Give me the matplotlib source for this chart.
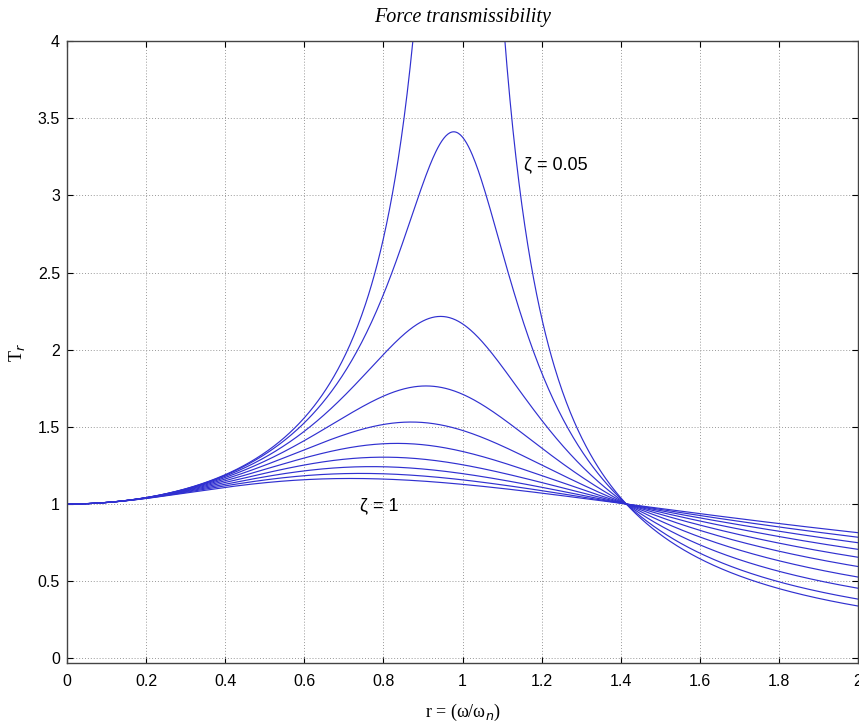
import numpy as np
import matplotlib
matplotlib.use("Agg")
import matplotlib.pyplot as plt

# Damping ratios of the plotted curves (read from peak heights)
zetas = [0.05, 0.155, 0.26, 0.36, 0.46, 0.56, 0.66, 0.76, 0.86, 0.96]
r = np.linspace(0, 2, 801)

xticks = [0, 0.2, 0.4, 0.6, 0.8, 1, 1.2, 1.4, 1.6, 1.8, 2]
xticklabels = ["0", "0.2", "0.4", "0.6", "0.8", "1", "1.2", "1.4", "1.6", "1.8", "2"]
yticks = [0, 0.5, 1, 1.5, 2, 2.5, 3, 3.5, 4]
yticklabels = ["0", "0.5", "1", "1.5", "2", "2.5", "3", "3.5", "4"]

fig = plt.figure(figsize=(8.59, 7.22), dpi=100)
ax = fig.add_axes([67/859, 59/722, 791/859, 622/722])

for z in zetas:
    T = np.sqrt((1 + (2*z*r)**2) / ((1 - r**2)**2 + (2*z*r)**2))
    ax.plot(r, T, color="#3030d0", lw=0.85)

ax.set_xlim(0, 2)
ax.set_ylim(-0.03, 4)
ax.set_xticks(xticks)
ax.set_xticklabels(xticklabels, family="Liberation Sans", fontsize=11.5)
ax.set_yticks(yticks)
ax.set_yticklabels(yticklabels, family="Liberation Sans", fontsize=11.5)
ax.tick_params(direction="in", length=4, width=0.8, top=True, right=True)
ax.tick_params(axis="x", pad=8)
ax.tick_params(axis="y", pad=5)
ax.grid(True, linestyle=(0, (1, 2)), color="#999999", lw=0.7)
for s in ax.spines.values():
    s.set_linewidth(1.0)
    s.set_color("#444444")

ax.set_title("Force transmissibility", family="Liberation Serif", style="italic",
             fontsize=14.5, pad=14)
ax.set_xlabel("r = (ω/ω$_n$)", family="Liberation Serif", fontsize=13, labelpad=9)
ax.set_ylabel("T$_r$", family="Liberation Serif", fontsize=13, labelpad=8)

ax.text(1.155, 3.2, "ζ = 0.05", family="Liberation Sans", fontsize=13, va="center")
ax.text(0.74, 0.99, "ζ = 1", family="Liberation Sans", fontsize=13, va="center")

fig.savefig("out.png", dpi=100)
